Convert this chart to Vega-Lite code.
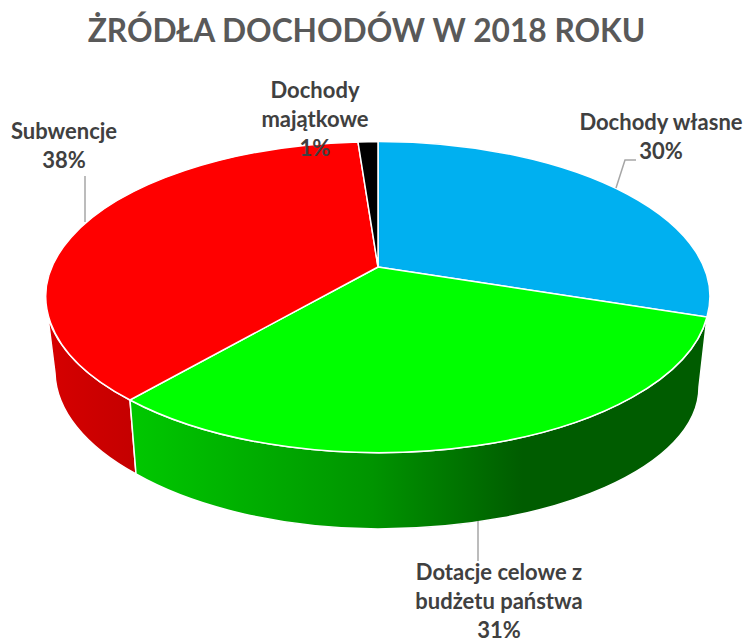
{
"$schema":"https://vega.github.io/schema/vega-lite/v6.json",
"width":745,"height":643,
"autosize":{"type":"none","contains":"padding"},
"padding":0,
"background":"white",
"title":{"text":"ŻRÓDŁA DOCHODÓW W 2018 ROKU","orient":"top","frame":"group","anchor":"middle","offset":-49,"dx":-6,"font":"Lato","fontSize":31.7,"fontWeight":"bold","color":"#595959"},
"data":{"values":[
{"source":"Dochody własne","share":30,"label":"Dochody własne\n30%"},
{"source":"Dotacje celowe z budżetu państwa","share":31,"label":"Dotacje celowe z\nbudżetu państwa\n31%"},
{"source":"Subwencje","share":38,"label":"Subwencje\n38%"},
{"source":"Dochody majątkowe","share":1,"label":"Dochody\nmajątkowe\n1%"}
]},
"layer":[
{"transform":[{"filter":"datum.source==='Subwencje'"}],
 "mark":{"type":"point","filled":true,"opacity":1,"size":4,"stroke":"white","strokeWidth":1.5,
  "shape":"M-242.5 78.5 A331 155 0 0 1 -324.5 -4.5 L-317.5 51.5 A323 156 0 0 0 -236.5 152.5 Z",
  "fill":{"gradient":"linear","x1":0,"y1":0,"x2":1,"y2":0,"stops":[{"offset":0,"color":"#D60000"},{"offset":1,"color":"#C40000"}]}},
 "encoding":{"x":{"datum":0,"type":"quantitative","scale":{"domain":[-1,1]},"axis":null},"y":{"datum":0,"type":"quantitative","scale":{"domain":[-1,1]},"axis":null}}},
{"transform":[{"filter":"datum.source==='Dotacje celowe z budżetu państwa'"}],
 "mark":{"type":"point","filled":true,"opacity":1,"size":4,"stroke":"white","strokeWidth":1.5,
  "shape":"M-242.5 78.5 A331 155 0 0 0 334.5 -4.5 L326.5 65.5 A321 142 0 0 1 5.5 207.5 A323 156 0 0 1 -236.5 152.5 Z",
  "fill":{"gradient":"linear","x1":0,"y1":0,"x2":1,"y2":0,"stops":[{"offset":0,"color":"#00C800"},{"offset":0.42,"color":"#009400"},{"offset":0.68,"color":"#005C00"},{"offset":1,"color":"#005C00"}]}},
 "encoding":{"x":{"datum":0,"type":"quantitative","scale":{"domain":[-1,1]},"axis":null},"y":{"datum":0,"type":"quantitative","scale":{"domain":[-1,1]},"axis":null}}},
{"mark":{"type":"point","filled":true,"opacity":1,"size":4,"stroke":"white","strokeWidth":1.5},
 "encoding":{"x":{"datum":0,"type":"quantitative","scale":{"domain":[-1,1]},"axis":null},"y":{"datum":0,"type":"quantitative","scale":{"domain":[-1,1]},"axis":null},
  "shape":{"field":"source","type":"nominal","legend":null,"scale":{"domain":["Dochody własne","Dotacje celowe z budżetu państwa","Subwencje","Dochody majątkowe"],"range":[
   "M5.5 -54.5 L5.5 -180 A331 155 0 0 1 334.5 -4.5 Z",
   "M5.5 -54.5 L334.5 -4.5 A331 155 0 0 1 -242.5 78.5 Z",
   "M5.5 -54.5 L-242.5 78.5 A331 155 0 0 1 -14.5 -179.5 Z",
   "M5.5 -54.5 L-14.5 -179.5 A331 155 0 0 1 5.5 -180 Z"]}},
  "fill":{"field":"source","type":"nominal","legend":null,"scale":{"domain":["Dochody własne","Dotacje celowe z budżetu państwa","Subwencje","Dochody majątkowe"],"range":["#00B0F0","#00FF00","#FF0000","#000000"]}}}},
{"transform":[{"filter":"datum.share>1"}],
 "mark":{"type":"point","filled":false,"opacity":1,"size":4,"stroke":"#A6A6A6","strokeWidth":1.5},
 "encoding":{"x":{"datum":0,"type":"quantitative","scale":{"domain":[-1,1]},"axis":null},"y":{"datum":0,"type":"quantitative","scale":{"domain":[-1,1]},"axis":null},
  "shape":{"field":"source","type":"nominal","legend":null,"scale":{"domain":["Dochody własne","Dotacje celowe z budżetu państwa","Subwencje"],"range":[
   "M263.5 -161.5 L252.5 -161.5 L243.5 -133.5",
   "M105.5 199.5 L105.5 239.5",
   "M-287.5 -145.5 L-287.5 -99.5"]}}}},
{"mark":{"type":"text","font":"Lato","fontSize":22,"fontWeight":"bold","color":"#404040","align":"center","baseline":"top","lineBreak":"\n","lineHeight":29},
 "encoding":{"text":{"field":"label"},
  "x":{"field":"share","type":"quantitative","axis":null,"scale":{"domain":[1,30,31,38],"range":[315,661,499,64]}},
  "y":{"field":"share","type":"quantitative","axis":null,"scale":{"domain":[1,30,31,38],"range":[81,113,563,122]}}}}
],
"resolve":{"scale":{"x":"independent","y":"independent","shape":"independent","fill":"independent"}},
"config":{"view":{"stroke":null}}
}
